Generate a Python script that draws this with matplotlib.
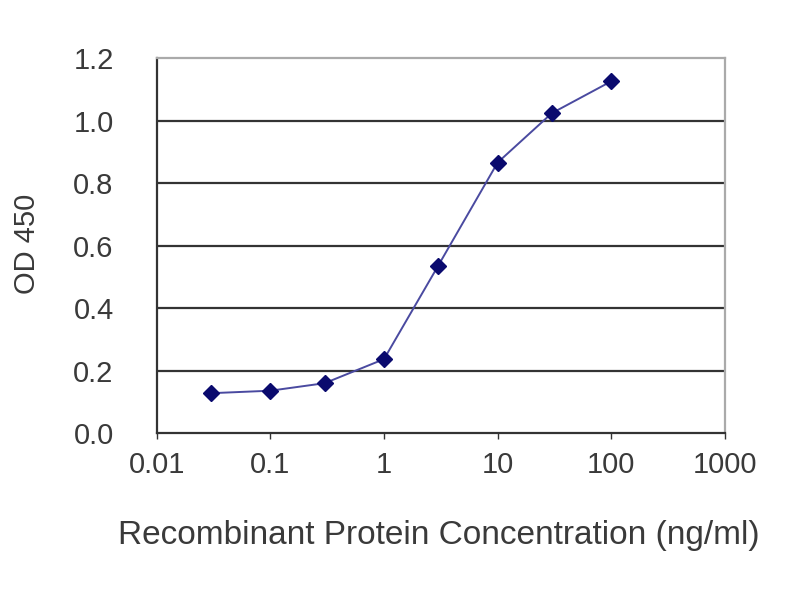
import matplotlib.pyplot as plt

plt.rcParams['font.family'] = ['Liberation Sans', 'DejaVu Sans']

conc = [0.03, 0.1, 0.3, 1, 3, 10, 30, 100]
od450 = [0.128, 0.136, 0.160, 0.237, 0.536, 0.866, 1.024, 1.126]

y_ticks = [0.0, 0.2, 0.4, 0.6, 0.8, 1.0, 1.2]
x_ticks = [0.01, 0.1, 1, 10, 100, 1000]
x_labels = ['0.01', '0.1', '1', '10', '100', '1000']

fig = plt.figure(figsize=(8, 6), dpi=100)
ax = fig.add_axes([0.196, 0.278, 0.710, 0.625])

for y in y_ticks[1:-1]:
    ax.axhline(y, color='#333333', linewidth=1.6, zorder=1)

ax.plot(conc, od450, color='#4a4aa0', linewidth=1.4, zorder=2)
ax.plot(conc, od450, linestyle='none', marker='D', markersize=8,
        color='#0a0a6e', zorder=3)

ax.set_xscale('log')
ax.set_xlim(0.01, 1000)
ax.set_ylim(0, 1.2)
ax.set_xticks(x_ticks)
ax.set_xticklabels(x_labels)
ax.minorticks_off()
ax.set_yticks(y_ticks)
ax.set_yticklabels([f'{v:.1f}' for v in y_ticks])

ax.tick_params(axis='x', direction='out', length=4, width=1, color='#333333',
               labelsize=21, labelcolor='#3a3a3a', pad=9)
ax.tick_params(axis='y', length=0, labelsize=21, labelcolor='#3a3a3a', pad=31)

for side in ['left', 'bottom']:
    ax.spines[side].set_color('#333333')
    ax.spines[side].set_linewidth(1.6)
for side in ['top', 'right']:
    ax.spines[side].set_color('#aaaaaa')
    ax.spines[side].set_linewidth(1.6)

fig.text(0.549, 0.108, 'Recombinant Protein Concentration (ng/ml)',
         fontsize=24, color='#3a3a3a', ha='center', va='center')
fig.text(0.034, 0.593, 'OD 450', fontsize=21, color='#3a3a3a',
         ha='center', va='center', rotation=90)

fig.savefig('out.png', dpi=100)
